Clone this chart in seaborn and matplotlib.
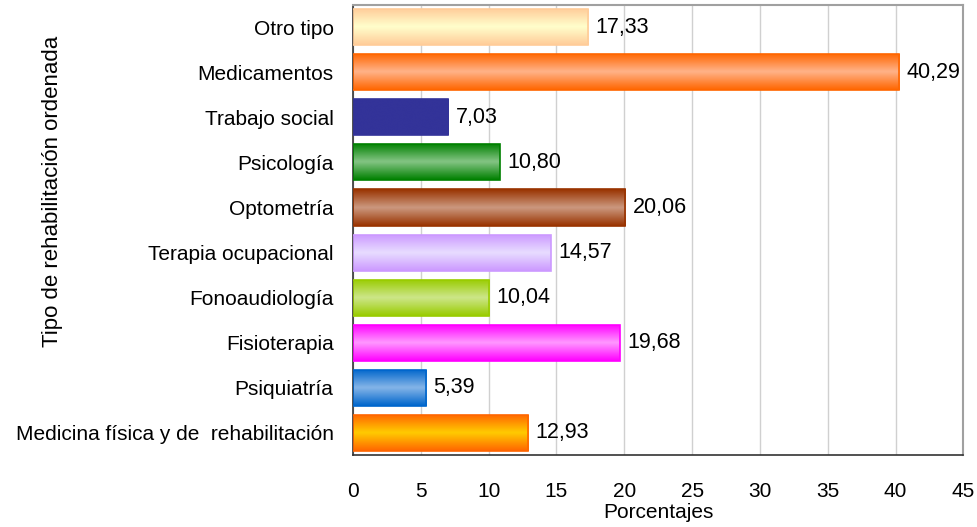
import numpy as np
import pandas as pd
import matplotlib
matplotlib.use("Agg")
import matplotlib.pyplot as plt
import seaborn as sns
from matplotlib.colors import LinearSegmentedColormap

categories = [
    "Otro tipo",
    "Medicamentos",
    "Trabajo social",
    "Psicología",
    "Optometría",
    "Terapia ocupacional",
    "Fonoaudiología",
    "Fisioterapia",
    "Psiquiatría",
    "Medicina física y de  rehabilitación",
]
values = [17.33, 40.29, 7.03, 10.80, 20.06, 14.57, 10.04, 19.68, 5.39, 12.93]

# (edge colour, centre colour) for the excel-like gradient fill
edge_colors = ["#FFCC99", "#FF6600", "#333399", "#008000", "#993300",
               "#CC99FF", "#99CC00", "#FF00FF", "#0066CC", "#FF6600"]
center_colors = ["#FFFFCC", "#FFB38A", "#333399", "#85C585", "#CC9980",
                 "#E8DDFF", "#CDE68A", "#FF99FF", "#85B5E8", "#FFCC00"]

df = pd.DataFrame({"tipo": categories, "pct": values})

sns.set_style("white")
plt.rcParams["font.family"] = ["Liberation Sans", "DejaVu Sans"]
plt.rcParams["text.color"] = "black"
plt.rcParams["xtick.color"] = "black"
plt.rcParams["ytick.color"] = "black"
plt.rcParams["axes.labelcolor"] = "black"

FS = 15

fig = plt.figure(figsize=(9.78, 5.27), dpi=100)
ax = fig.add_axes([0.361, 0.136, 0.624, 0.855])

sns.barplot(data=df, x="pct", y="tipo", hue="tipo", palette=edge_colors,
            legend=False, width=0.8, ax=ax, zorder=2)

ax.set_xlim(0, 45)
ax.set_ylim(len(categories) - 0.5, -0.5)

# gradient fill on every bar
for patch, e, c in zip(ax.patches, edge_colors, center_colors):
    x0, y0 = patch.get_x(), patch.get_y()
    w, h = patch.get_width(), patch.get_height()
    cmap = LinearSegmentedColormap.from_list("g", [e, c, e])
    grad = np.linspace(0, 1, 64).reshape(-1, 1)
    im = ax.imshow(grad, cmap=cmap, aspect="auto", extent=(x0, x0 + w, y0 + h, y0),
                   zorder=2.5, interpolation="bicubic")
    im.set_clip_path(patch)
    patch.set_edgecolor(e)
    patch.set_linewidth(1.2)
    patch.set_zorder(3)
    patch.set_facecolor("none")
    ax.text(x0 + w + 0.55, y0 + h / 2, f"{w:.2f}".replace(".", ","),
            va="center", ha="left", fontsize=FS + 0.5, zorder=4)

ax.set_xlim(0, 45)
ax.set_ylim(len(categories) - 0.5, -0.5)

ax.set_xticks(np.arange(0, 46, 5))
ax.set_yticks(range(len(categories)))
ax.set_yticks(np.arange(-0.5, len(categories), 1), minor=True)
ax.tick_params(axis="y", which="major", length=0, pad=14, labelsize=FS)
ax.tick_params(axis="y", which="minor", length=5, width=1, color="#333333", direction="out")
ax.tick_params(axis="x", which="major", length=5, width=1, color="#333333",
               direction="out", labelsize=FS, pad=14)

ax.xaxis.grid(True, color="#D0D0D0", linewidth=1, zorder=0)
ax.set_axisbelow(True)

for side in ["left", "bottom"]:
    ax.spines[side].set_color("#333333")
    ax.spines[side].set_linewidth(1.2)
for side in ["top", "right"]:
    ax.spines[side].set_visible(True)
    ax.spines[side].set_color("#A0A0A0")
    ax.spines[side].set_linewidth(1.5)

ax.set_xlabel("Porcentajes", fontsize=FS, labelpad=2)
ax.set_ylabel("Tipo de rehabilitación ordenada", fontsize=16)
ax.yaxis.set_label_coords(-0.475, 0.585)

plt.savefig("out.png", dpi=100)
plt.close()
